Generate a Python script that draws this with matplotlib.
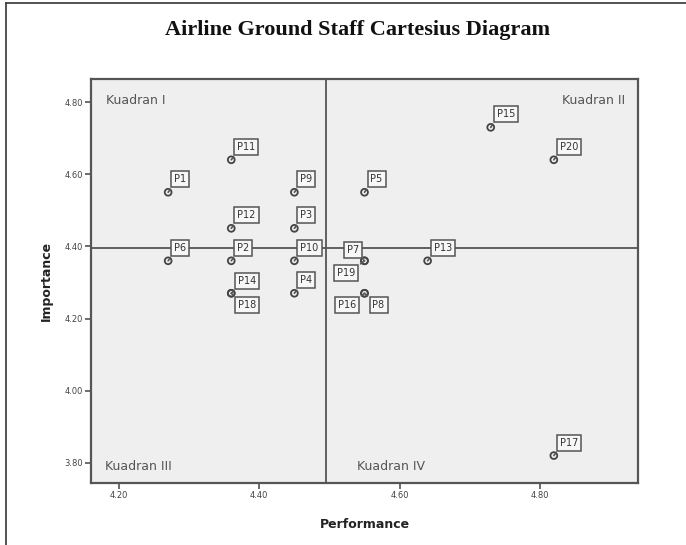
import matplotlib.pyplot as plt
from matplotlib.lines import Line2D

labels = ["P1", "P2", "P3", "P4", "P5", "P6", "P7", "P8", "P9", "P10",
          "P11", "P12", "P13", "P14", "P15", "P16", "P17", "P18", "P19", "P20"]
performance = [4.27, 4.36, 4.45, 4.45, 4.55, 4.27, 4.55, 4.55, 4.45, 4.45,
               4.36, 4.36, 4.64, 4.36, 4.73, 4.55, 4.82, 4.36, 4.55, 4.82]
importance = [4.55, 4.36, 4.45, 4.27, 4.55, 4.36, 4.36, 4.27, 4.55, 4.36,
              4.64, 4.45, 4.36, 4.27, 4.73, 4.27, 3.82, 4.27, 4.36, 4.64]
x_ticks = [4.20, 4.40, 4.60, 4.80]
y_ticks = [3.80, 4.00, 4.20, 4.40, 4.60, 4.80]

# label placement (pixel offset of text, alignment, leader attach point)
default_place = ((6, 8), "left", "bottom", (0, 0))
place = {
    "P7": ((-5, 6), "right", "bottom", (1, 0)),
    "P19": ((-9, -7), "right", "top", (1, 1)),
    "P16": ((-8, -7), "right", "top", (1, 1)),
    "P8": ((8, -7), "left", "top", (0, 1)),
    "P14": ((7, 7), "left", "bottom", (0, 0)),
    "P18": ((7, -7), "left", "top", (0, 1)),
}

mean_perf = sum(performance) / len(performance)
mean_imp = sum(importance) / len(importance)

fig = plt.figure(figsize=(6.86, 5.45), dpi=100)
ax = fig.add_axes([91 / 686, 1 - 483 / 545, 547 / 686, 404 / 545])
ax.set_facecolor("#efefef")

ax.scatter(performance, importance, s=24, facecolors="none", edgecolors="#444444",
           linewidths=1.3, zorder=4)
ax.axvline(mean_perf, color="#555555", lw=1.3, zorder=2)
ax.axhline(mean_imp, color="#555555", lw=1.3, zorder=2)

for lab, x, y in zip(labels, performance, importance):
    off, ha, va, rel = place.get(lab, default_place)
    ax.annotate(lab, (x, y), xytext=off, textcoords="offset pixels", ha=ha, va=va,
                fontsize=7, color="#333333", zorder=5,
                bbox=dict(boxstyle="square,pad=0.3", fc="#f7f7f7", ec="#555555", lw=1.1),
                arrowprops=dict(arrowstyle="-", color="#555555", lw=1.2,
                                shrinkA=1.5, shrinkB=0, relpos=rel))

qkw = dict(transform=ax.transAxes, fontsize=9, color="#555555")
ax.text(15 / 547, 1 - 22 / 404, "Kuadran I", ha="left", va="center", **qkw)
ax.text(1 - 13 / 547, 1 - 22 / 404, "Kuadran II", ha="right", va="center", **qkw)
ax.text(14 / 547, 16 / 404, "Kuadran III", ha="left", va="center", **qkw)
ax.text(266 / 547, 16 / 404, "Kuadran IV", ha="left", va="center", **qkw)

ax.set_xlim(4.16, 4.94)
ax.set_ylim(3.744, 4.864)
ax.set_xticks(x_ticks)
ax.set_xticklabels([f"{v:.2f}" for v in x_ticks])
ax.set_yticks(y_ticks)
ax.set_yticklabels([f"{v:.2f}" for v in y_ticks])
ax.tick_params(labelsize=6, colors="#444444", length=4, width=1.1, pad=2)
for sp in ax.spines.values():
    sp.set_color("#555555")
    sp.set_linewidth(1.6)

ax.set_xlabel("Performance", fontsize=9, fontweight="bold", color="#222222", labelpad=13)
ax.set_ylabel("Importance", fontsize=9, fontweight="bold", color="#222222", labelpad=8)

fig.text(358 / 686, 1 - 30 / 545, "Airline Ground Staff Cartesius Diagram",
         ha="center", va="center", fontsize=16, fontweight="bold",
         family="Liberation Serif", color="#111111")

# outer frame of the figure (top and left only)
for xs, ys in [([6, 6], [0, 542]), ([6, 686], [542, 542])]:
    fig.add_artist(Line2D([v / 686 for v in xs], [v / 545 for v in ys],
                          color="#444444", lw=1.3))

fig.savefig("out.png", dpi=100)
